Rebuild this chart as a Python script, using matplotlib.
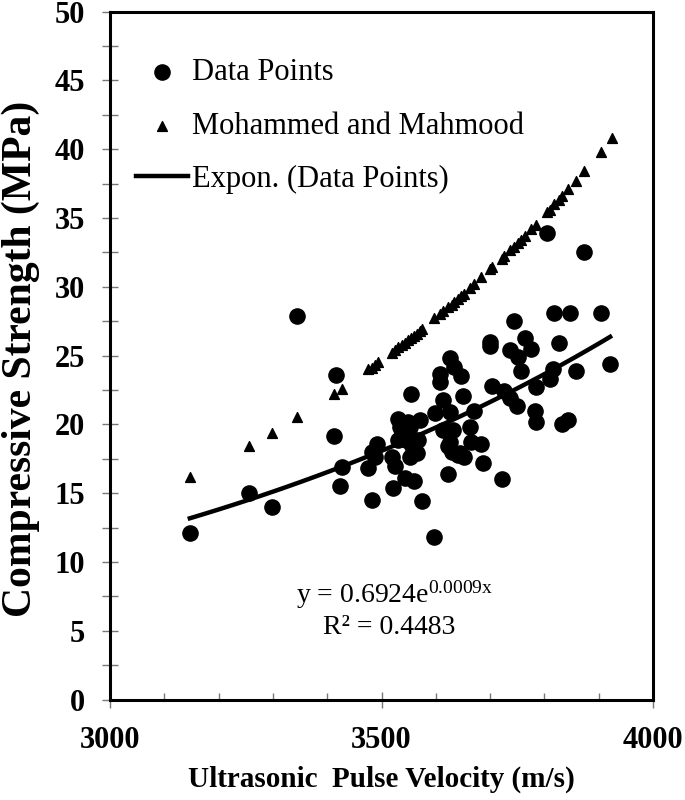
import numpy as np
import matplotlib
matplotlib.use("Agg")
import matplotlib.pyplot as plt
from matplotlib.ticker import MultipleLocator

upv = [3147, 3256, 3298, 3344, 3413, 3416, 3424, 3427, 3476, 3482,
       3482, 3488, 3491, 3519, 3522, 3525, 3531, 3531, 3534, 3537,
       3543, 3546, 3549, 3552, 3553, 3554, 3556, 3559, 3565, 3568,
       3571, 3574, 3597, 3599, 3608, 3608, 3614, 3614, 3623, 3623,
       3626, 3626, 3626, 3629, 3632, 3633, 3641, 3645, 3647, 3650,
       3651, 3663, 3665, 3670, 3684, 3686, 3700, 3700, 3703, 3721,
       3726, 3737, 3737, 3744, 3749, 3752, 3756, 3764, 3776, 3782,
       3784, 3785, 3804, 3810, 3816, 3818, 3826, 3832, 3844, 3848,
       3858, 3873, 3904, 3921]
strength = [12.1, 15.0, 14.0, 27.9, 19.15, 23.6, 15.5, 16.9, 16.8, 14.5,
            18.0, 17.6, 18.6, 17.6, 15.4, 17.0, 18.85, 20.4, 19.8, 19.3,
            16.1, 18.85, 20.2, 17.6, 19.8, 22.2, 18.4, 15.9, 17.9, 18.85,
            20.3, 14.4, 11.8, 20.8, 23.65, 23.1, 21.8, 19.6, 18.4, 16.4,
            24.8, 20.9, 18.7, 18.0, 19.6, 24.2, 17.8, 17.9, 23.5, 22.05,
            17.6, 19.8, 18.7, 21.0, 18.6, 17.2, 26.0, 25.7, 22.8, 16.0,
            22.4, 25.4, 21.9, 27.5, 21.3, 24.9, 23.9, 26.3, 25.5, 21.0,
            22.7, 20.2, 33.9, 23.3, 24.0, 28.1, 25.9, 20.0, 20.3, 28.1,
            23.9, 32.5, 28.1, 24.4]

mm_upv = [3147, 3256, 3298, 3344, 3413, 3427, 3476, 3482, 3488, 3494,
          3519, 3525, 3531, 3537, 3543, 3549, 3554, 3559, 3565, 3571,
          3574, 3597, 3608, 3614, 3623, 3629, 3633, 3641, 3647, 3651,
          3663, 3670, 3684, 3700, 3703, 3721, 3726, 3737, 3744, 3752,
          3756, 3764, 3776, 3784, 3804, 3810, 3818, 3826, 3832, 3844,
          3858, 3873, 3904, 3924]
mm_strength = [16.2, 18.4, 19.4, 20.5, 22.2, 22.6, 24.0, 24.1, 24.3, 24.5,
               25.2, 25.4, 25.6, 25.8, 25.9, 26.1, 26.3, 26.4, 26.6, 26.8,
               26.9, 27.7, 28.0, 28.2, 28.5, 28.7, 28.9, 29.1, 29.3, 29.5,
               29.9, 30.2, 30.7, 31.3, 31.4, 32.0, 32.2, 32.7, 32.9, 33.2,
               33.4, 33.7, 34.2, 34.5, 35.4, 35.6, 36.0, 36.3, 36.6, 37.1,
               37.7, 38.4, 39.8, 40.8]

serif = ["Liberation Serif", "DejaVu Serif"]
plt.rcParams["font.family"] = serif
plt.rcParams["mathtext.fontset"] = "custom"
plt.rcParams["mathtext.rm"] = "Liberation Serif"
plt.rcParams["mathtext.it"] = "Liberation Serif:italic"

fig = plt.figure(figsize=(6.85, 8.0), dpi=100)
ax = fig.add_axes([0.1606, 0.1256, 0.7927, 0.86])

ax.scatter(upv, strength, s=120, color="black", marker="o", zorder=3,
           label="Data Points")
ax.scatter(mm_upv, mm_strength, s=50, color="black", marker="^", zorder=3,
           label="Mohammed and Mahmood")

# exponential trendline through the data points (least squares on log y)
b, ln_a = np.polyfit(upv, np.log(strength), 1)
xs = np.linspace(min(upv), max(upv), 100)
ax.plot(xs, np.exp(ln_a) * np.exp(b * xs), color="black", lw=3.2,
        zorder=4, label="Expon. (Data Points)")

ax.set_xlim(3000, 4000)
ax.set_ylim(0, 50)
ax.xaxis.set_major_locator(MultipleLocator(500))
ax.xaxis.set_minor_locator(MultipleLocator(100))
ax.yaxis.set_major_locator(MultipleLocator(5))
ax.yaxis.set_minor_locator(MultipleLocator(2.5))
ax.tick_params(axis="x", which="major", direction="inout", length=12,
               width=1, color="#777777", labelsize=22, pad=13)
ax.tick_params(axis="x", which="minor", direction="in", length=5,
               width=1, color="#777777")
ax.tick_params(axis="y", which="both", direction="inout", length=12,
               width=1, color="#777777", labelsize=22, pad=12)
for lab in ax.get_xticklabels() + ax.get_yticklabels():
    lab.set_fontweight("bold")
for sp in ax.spines.values():
    sp.set_linewidth(2.2)

ax.set_xlabel("Ultrasonic  Pulse Velocity (m/s)", fontsize=21,
              fontweight="bold", labelpad=8)
ax.set_ylabel("Compressive Strength (MPa)", fontsize=30,
              fontweight="bold", va="center")
ax.yaxis.set_label_coords(-0.165, 0.495)

ax.legend(loc="upper left", frameon=False, fontsize=22,
          bbox_to_anchor=(0.025, 0.95), handlelength=1.7,
          handletextpad=0.15, labelspacing=0.8, borderaxespad=0.0)

ax.text(0.525, 0.152, "y = 0.6924e$^{\\mathrm{0.0009x}}$",
        transform=ax.transAxes, ha="center", va="center", fontsize=20)
ax.text(0.515, 0.104, "R² = 0.4483", transform=ax.transAxes,
        ha="center", va="center", fontsize=20)

fig.savefig("out.png", dpi=100)
